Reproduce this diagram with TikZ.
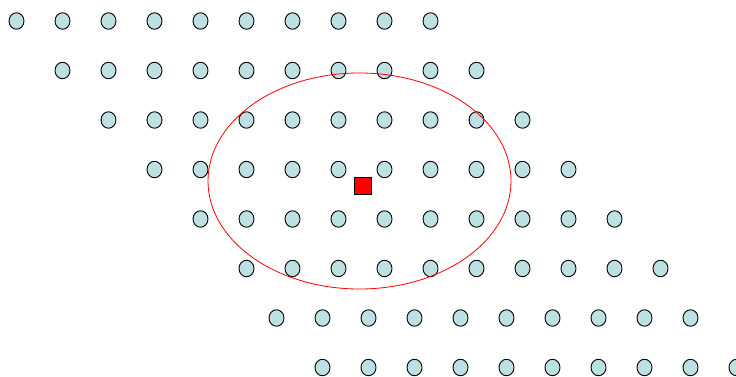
\documentclass[tikz,border=0pt]{standalone}
\usepackage{xcolor}
\usepackage{tikz}
\usetikzlibrary{shapes.geometric}
\definecolor{sitecyan}{RGB}{189,224,227}
\definecolor{probered}{RGB}{255,0,0}

\begin{document}
\begin{tikzpicture}[x=1pt, y=-1pt,
  site/.style={ellipse, draw=black, fill=sitecyan, line width=0.9pt, minimum width=15pt, minimum height=16.5pt, inner sep=0pt},
  probe/.style={rectangle, draw=black, fill=probered, line width=0.8pt, minimum size=17pt, inner sep=0pt}]
\useasboundingbox (0,0) rectangle (736,377);
\foreach \xs [count=\r] in {16.5,62.5,108.5,154.5,200.5,246.5,276.5,322.5} {
  \foreach \c in {0,...,9} {
    \node[site] (s-\r-\c) at ({\xs+46*\c},{21+49.5*(\r-1)}) {};
  }
}
\node[ellipse, draw=probered, line width=0.8pt, minimum width=303pt, minimum height=216pt, inner sep=0pt] (range) at (359.5,181) {};
\node[probe] (probe) at (363,185.5) {};
\end{tikzpicture}
\end{document}
